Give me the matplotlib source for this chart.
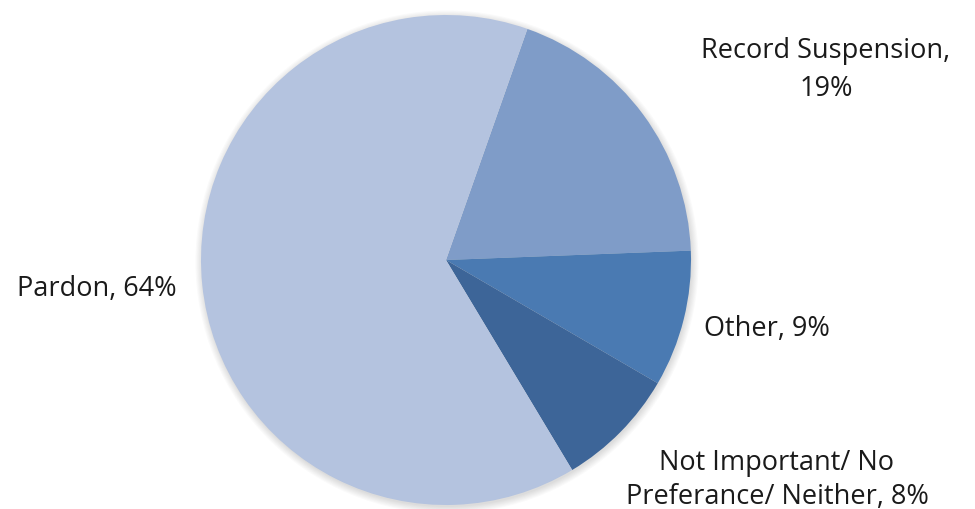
import matplotlib
matplotlib.use('Agg')
import matplotlib.pyplot as plt
from matplotlib.patches import Circle

# slice data, drawn clockwise from the top
labels = ['Record Suspension,\n19%', 'Other, 9%',
          'Not Important/ No\nPreferance/ Neither, 8%', 'Pardon, 64%']
shares = [19, 9, 8, 64]
colors = ['#7F9CC8', '#4A7AB2', '#3D6598', '#B4C3DF']

# where each label sits (pixels, origin top-left) and its line spacing
label_xy = [(826, 70), (767, 329), (777, 480), (97, 289)]
label_gap = [1.5, 1.2, 1.32, 1.2]

W, H = 975, 510
fig = plt.figure(figsize=(W / 100, H / 100), dpi=100)
ax = fig.add_axes([0, 0, 1, 1])

cx, cy, r = 446, 261, 245

# soft shadow behind the pie
for k in range(7):
    ax.add_patch(Circle((cx + 1, cy + 2), r + k * 1.1, color='black',
                        alpha=0.02, lw=0, zorder=0))

ax.pie(shares, colors=colors, startangle=-70.6, counterclock=True,
       center=(cx, cy), radius=r, frame=True,
       wedgeprops={'linewidth': 0, 'zorder': 1})
ax.set_xlim(0, W)
ax.set_ylim(H, 0)
ax.set_aspect('equal')
ax.axis('off')

for lab, (x, y), gap in zip(labels, label_xy, label_gap):
    ax.text(x, y, lab, ha='center', va='center', fontsize=19.5,
            family='Open Sans', color='#1a1a1a', linespacing=gap)

fig.savefig('out.png', dpi=100)
